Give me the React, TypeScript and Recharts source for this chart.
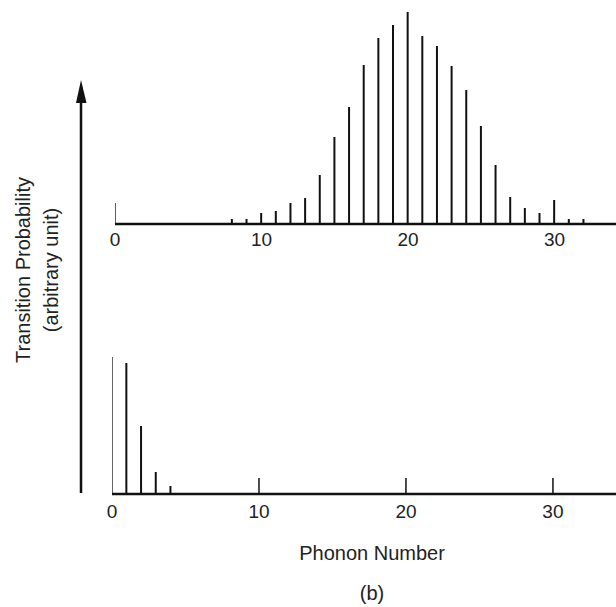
import { BarChart, Bar, XAxis, YAxis } from 'recharts'

// upper spectrum: phonon number vs. transition probability
const upperPhonons = [0, 8, 9, 10, 11, 12, 13, 14, 15, 16, 17, 18, 19, 20, 21, 22, 23, 24, 25, 26, 27, 28, 29, 30, 31, 32]
const upperProb = [21, 5, 5, 11, 13, 21, 26, 49, 87, 117, 159, 186, 199, 212, 188, 178, 158, 134, 98, 59, 27, 16, 11, 24, 5, 5]

// lower spectrum
const lowerPhonons = [0, 1, 2, 3, 4]
const lowerProb = [137, 131, 68, 22, 8]

const axisTicks = [0, 10, 20, 30]

const upperData = upperPhonons.map((n, i) => ({ n, p: upperProb[i] }))
const lowerData = lowerPhonons.map((n, i) => ({ n, p: lowerProb[i] }))

const FONT = '"Liberation Sans", Arial, Helvetica, sans-serif'
const INK = '#111'
const TEXT = '#222'

// bottom axis draws short inward marks at the non-zero ticks
function InwardTick(props: any) {
  const { x, y, payload } = props
  const axisY = y - 11
  return (
    <g>
      {payload.value !== 0 && (
        <line x1={x} x2={x} y1={axisY} y2={axisY - 16} stroke={INK} strokeWidth={1.5} />
      )}
      <text x={x} y={y} dy="0.71em" textAnchor="middle" fill={TEXT} fontSize={19} fontFamily={FONT}>
        {payload.value}
      </text>
    </g>
  )
}

export default function App() {
  return (
    <div style={{ position: 'absolute', left: 0, top: 0, width: 616, height: 607, background: '#fff', fontFamily: FONT }}>
      <div style={{ position: 'absolute', left: 0, top: 0 }}>
        <BarChart width={616} height={260} data={upperData} margin={{ top: 4, right: 0, left: 115, bottom: 6 }}>
          <XAxis
            dataKey="n"
            type="number"
            domain={[0, 34.2]}
            ticks={axisTicks}
            allowDataOverflow
            tickLine={false}
            tickSize={6}
            tickMargin={3}
            axisLine={{ stroke: INK, strokeWidth: 2.5 }}
            tick={{ fill: TEXT, fontSize: 19, fontFamily: FONT }}
            height={30}
          />
          <YAxis hide domain={[0, 220]} allowDataOverflow />
          <Bar dataKey="p" fill={INK} barSize={2} isAnimationActive={false} />
        </BarChart>
      </div>

      <div style={{ position: 'absolute', left: 0, top: 340 }}>
        <BarChart width={616} height={200} data={lowerData} margin={{ top: 4, right: 0, left: 112, bottom: 16 }}>
          <XAxis
            dataKey="n"
            type="number"
            domain={[0, 34.29]}
            ticks={axisTicks}
            allowDataOverflow
            tickLine={false}
            tickSize={6}
            tickMargin={5}
            axisLine={{ stroke: INK, strokeWidth: 2.5 }}
            tick={<InwardTick />}
            height={30}
          />
          <YAxis hide domain={[0, 150]} allowDataOverflow />
          <Bar dataKey="p" fill={INK} barSize={2} isAnimationActive={false} />
        </BarChart>
      </div>

      {/* shared vertical axis arrow and axis titles */}
      <svg width={616} height={607} style={{ position: 'absolute', left: 0, top: 0, pointerEvents: 'none' }}>
        <line x1={81} x2={81} y1={493} y2={98} stroke={INK} strokeWidth={2.5} />
        <polygon points="81,80 76,103 86.5,103" fill={INK} />
        <text
          x={23}
          y={270}
          transform="rotate(-90 23 270)"
          textAnchor="middle"
          dominantBaseline="central"
          fontSize={20}
          fill={TEXT}
          fontFamily={FONT}
        >
          Transition Probability
        </text>
        <text
          x={51}
          y={270}
          transform="rotate(-90 51 270)"
          textAnchor="middle"
          dominantBaseline="central"
          fontSize={20}
          fill={TEXT}
          fontFamily={FONT}
        >
          (arbitrary unit)
        </text>
        <text x={372} y={553} textAnchor="middle" dominantBaseline="central" fontSize={20} fill={TEXT} fontFamily={FONT}>
          Phonon Number
        </text>
        <text x={372} y={593} textAnchor="middle" dominantBaseline="central" fontSize={20} fill={TEXT} fontFamily={FONT}>
          (b)
        </text>
      </svg>
    </div>
  )
}
